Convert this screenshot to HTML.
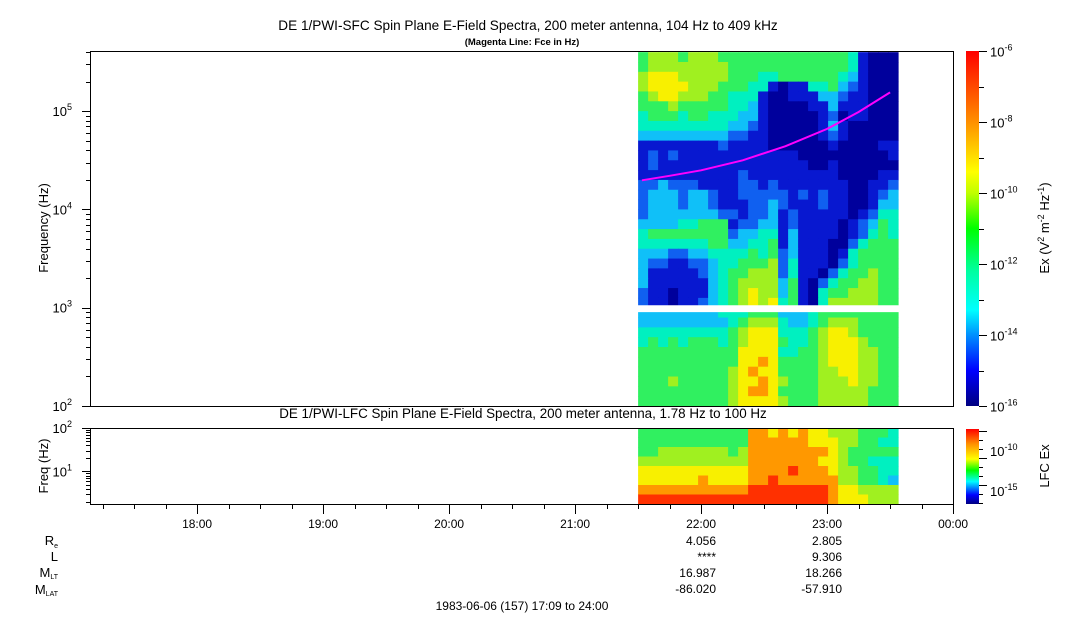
<!DOCTYPE html>
<html><head><meta charset="utf-8">
<style>
html,body{margin:0;padding:0;background:#fff;}
svg{display:block;font-family:"Liberation Sans",Arial,sans-serif;}
</style></head>
<body>
<svg id="chart" width="1083" height="620" viewBox="0 0 1083 620" xmlns="http://www.w3.org/2000/svg">
<defs>
<linearGradient id="jet1" x1="0" y1="1" x2="0" y2="0">
<stop offset="0" stop-color="#000080"/><stop offset="0.1" stop-color="#0000ff"/><stop offset="0.2" stop-color="#0090ff"/><stop offset="0.27" stop-color="#00ffff"/><stop offset="0.38" stop-color="#00ffa0"/><stop offset="0.5" stop-color="#00ff00"/><stop offset="0.6" stop-color="#c0ff00"/><stop offset="0.66" stop-color="#ffff00"/><stop offset="0.8" stop-color="#ff9000"/><stop offset="1" stop-color="#ff0000"/>
</linearGradient>
<linearGradient id="jet2" x1="0" y1="1" x2="0" y2="0">
<stop offset="0" stop-color="#000080"/><stop offset="0.12" stop-color="#0000ff"/><stop offset="0.3" stop-color="#00ffff"/><stop offset="0.45" stop-color="#00ff00"/><stop offset="0.6" stop-color="#ffff00"/><stop offset="0.8" stop-color="#ff9000"/><stop offset="1" stop-color="#ff0000"/>
</linearGradient>
</defs>
<text x="528" y="30" font-size="13.6" text-anchor="middle">DE 1/PWI-SFC  Spin Plane E-Field Spectra, 200 meter antenna, 104 Hz to 409 kHz</text>
<text x="522" y="45" font-size="9.5" font-weight="bold" text-anchor="middle">(Magenta Line: Fce in Hz)</text>
<text x="523" y="418" font-size="13.4" text-anchor="middle">DE 1/PWI-LFC  Spin Plane E-Field Spectra, 200 meter antenna, 1.78 Hz to 100 Hz</text>
<g id="sfc"></g>
<g id="lfc"></g>
<g id="axes"></g>
<text transform="translate(48,228) rotate(-90)" font-size="13" text-anchor="middle">Frequency (Hz)</text>
<text transform="translate(48,466) rotate(-90)" font-size="13" text-anchor="middle">Freq (Hz)</text>
<rect x="966" y="51" width="13" height="355" fill="url(#jet1)"/>
<rect x="966" y="429" width="13" height="75" fill="url(#jet2)"/>
<text transform="translate(1049,228) rotate(-90)" font-size="13" text-anchor="middle">Ex (V<tspan dy="-5" font-size="9">2</tspan><tspan dy="5"> m</tspan><tspan dy="-5" font-size="9">-2</tspan><tspan dy="5"> Hz</tspan><tspan dy="-5" font-size="9">-1</tspan><tspan dy="5">)</tspan></text>
<text transform="translate(1049,466) rotate(-90)" font-size="13" text-anchor="middle">LFC Ex</text>
<g font-size="13" text-anchor="end">
<text x="58" y="545">R<tspan font-size="7" dy="3">e</tspan></text>
<text x="58" y="561">L</text>
<text x="58" y="577">M<tspan font-size="7" dy="2">LT</tspan></text>
<text x="58" y="594">M<tspan font-size="7" dy="2">LAT</tspan></text>
</g>
<g font-size="12" text-anchor="end">
<text x="716" y="545">4.056</text><text x="716" y="561">****</text><text x="716" y="577">16.987</text><text x="716" y="593">-86.020</text>
<text x="842" y="545">2.805</text><text x="842" y="561">9.306</text><text x="842" y="577">18.266</text><text x="842" y="593">-57.910</text>
</g>
<text x="522" y="610" font-size="12" text-anchor="middle">1983-06-06 (157) 17:09 to 24:00</text>
</svg>
<script>
// time columns start (hours) and width
const colStartHour = 21.5;
const colStepHour = 10/126;
// SFC rows: log10 freq bands, listed top (5.5-5.61) to bottom (2.0-2.1); level 0..9 => 1e-16..1e-7
const sfcRows = [
"56665 66655 55555 55555 54100 0",
"56666 66665 55555 55555 54100 0",
"67776 66665 55445 55555 43100 0",
"67777 66655 54410 11445 32100 0",
"56776 66554 44100 11133 21100 0",
"55565 55554 43100 00113 11100 0",
"45554 55444 33100 00012 01100 0",
"44444 44443 32100 00013 10000 0",
"33333 33332 21100 00012 10000 0",
"11111 11121 11100 00001 00001 1",
"12121 11111 11111 10000 00000 1",
"12111 11111 11111 11001 00000 0",
"11111 11111 21111 11111 00001 1",
"22322 21111 22121 11111 10011 2",
"23332 33211 22222 12121 10012 3",
"23332 33211 12232 11121 10013 3",
"23333 33322 12231 21111 10124 4",
"33334 45551 22331 21111 01235 4",
"45555 55552 33441 31111 01245 4",
"44444 44553 34451 31110 02455 5",
"33322 33444 45452 31110 14555 5",
"32211 22344 55562 41110 24555 5",
"31111 12345 56662 41102 45565 5",
"31111 11345 66663 51024 55665 5",
"21101 11345 67663 51045 56665 5",
"21101 12345 67674 51046 66665 5",
"33333 33344 45553 33455 55555 5",
"33333 33334 56664 33456 66555 5",
"44444 44445 67774 44567 76555 5",
"45454 55545 67775 44567 77655 5",
"55555 55555 77774 45567 77665 5",
"55555 55555 77875 55567 77665 5",
"55555 55556 78775 55566 77665 5",
"55565 55556 77876 55566 67665 5",
"55555 55556 78875 55566 66655 5",
"55555 55556 77776 55566 66655 5"
];
// LFC rows top to bottom (8 bands 1.78..100 Hz)
const lfcRows = [
"55555 55555 58878 78776 66555 4",
"55555 55555 58888 88777 66554 4",
"55666 66665 68888 88887 65555 5",
"66666 66666 68888 88877 65544 4",
"77777 77777 78888 98887 66554 4",
"77777 78777 78898 88888 66554 3",
"88888 88888 89999 99998 77666 6",
"99999 99999 99999 99998 77766 6"
];
// Fce magenta line
const fceHours = [21.53, 21.75, 22.0, 22.33, 22.67, 23.0, 23.25, 23.5];
const fceKHz = [19.8, 22, 25, 31.6, 44, 66, 98, 155];
// tick labels
const yTickExps = [2, 3, 4, 5];
const cbExps = [-16, -14, -12, -10, -8, -6];
const hourLabels = ["18:00", "19:00", "20:00", "21:00", "22:00", "23:00", "00:00"];

const NS = "http://www.w3.org/2000/svg";
const X0 = 90, X1 = 953, HOUR0 = 17.15;
const xScale = h => X0 + (h - HOUR0) * 126;
const TY0 = 51, TY1 = 406, LOGMIN = 2, LOGMAX = Math.log10(409000);
const yTop = l => TY1 - (l - LOGMIN) / (LOGMAX - LOGMIN) * (TY1 - TY0);
const BY0 = 428, BY1 = 504, BLMIN = Math.log10(1.78), BLMAX = 2;
const yBot = l => BY1 - (l - BLMIN) / (BLMAX - BLMIN) * (BY1 - BY0);
const palette = ["#00009c","#0818d0","#1060f0","#10c0f8","#00f0c0","#30f060","#a0f020","#f8f000","#ff9800","#ff3000"];

function mk(tag, attrs, parent) {
  const e = document.createElementNS(NS, tag);
  for (const k in attrs) e.setAttribute(k, attrs[k]);
  parent.appendChild(e);
  return e;
}
const sfc = document.getElementById("sfc");
sfcRows.forEach((row, k) => {
  const s = row.replace(/ /g, "");
  const lo = 2 + 0.1 * (sfcRows.length - 1 - k);
  const hi = Math.min(lo + 0.1, LOGMAX);
  for (let i = 0; i < s.length; i++) {
    const x = xScale(colStartHour + i * colStepHour), x2 = xScale(colStartHour + (i + 1) * colStepHour);
    const r = mk("rect", {x: x, y: yTop(hi), width: x2 - x + 0.5, height: yTop(lo) - yTop(hi) + 0.5, fill: palette[+s[i]]}, sfc);
    
    
  }
});
// data gap band
const gap = mk("rect", {x: 630, y: yTop(3.025), width: 275, height: yTop(2.955) - yTop(3.025), fill: "#fff"}, sfc);



const lfc = document.getElementById("lfc");
const bandStep = (BLMAX - BLMIN) / lfcRows.length;
lfcRows.forEach((row, k) => {
  const s = row.replace(/ /g, "");
  const hi = BLMAX - k * bandStep, lo = hi - bandStep;
  for (let i = 0; i < s.length; i++) {
    const x = xScale(colStartHour + i * colStepHour), x2 = xScale(colStartHour + (i + 1) * colStepHour);
    const r = mk("rect", {x: x, y: yBot(hi), width: x2 - x + 0.5, height: yBot(lo) - yBot(hi) + 0.5, fill: palette[+s[i]]}, lfc);
    
    
  }
});

// fce line
let d = "";
fceHours.forEach((h, i) => { d += (i ? "L" : "M") + xScale(h).toFixed(1) + "," + yTop(Math.log10(fceKHz[i] * 1000)).toFixed(1); });
const fl = mk("path", {d: d, fill: "none", stroke: "#ff00ff", "stroke-width": 2}, sfc);



const ax = document.getElementById("axes");
const line = (x1, y1, x2, y2) => mk("line", {x1, y1, x2, y2, stroke: "#000", "stroke-width": 1}, ax);
// frames
mk("rect", {x: X0 + 0.5, y: TY0 + 0.5, width: X1 - X0, height: TY1 - TY0, fill: "none", stroke: "#000"}, ax);
mk("rect", {x: X0 + 0.5, y: BY0 + 0.5, width: X1 - X0, height: BY1 - BY0, fill: "none", stroke: "#000"}, ax);
// top y ticks
for (let e = 2; e <= 5; e++) {
  for (let m = 1; m < 10; m++) {
    const l = e + Math.log10(m);
    if (l > LOGMAX) break;
    const y = Math.round(yTop(l)) + 0.5;
    line(m === 1 ? X0 - 8 : X0 - 4, y, X0, y);
  }
}
yTickExps.forEach(e => {
  const t = mk("text", {x: 72, y: yTop(e) + 5, "font-size": 13, "text-anchor": "end"}, ax);
  
  
  t.innerHTML = '10<tspan dy="-6" font-size="9">' + e + '</tspan>';
});
// bottom y ticks
for (let e = 0; e <= 2; e++) {
  for (let m = 1; m < 10; m++) {
    const l = e + Math.log10(m);
    if (l < BLMIN || l > BLMAX) continue;
    const y = Math.round(yBot(l)) + 0.5;
    line(m === 1 ? X0 - 8 : X0 - 4, y, X0, y);
  }
}
[1, 2].forEach(e => {
  const t = mk("text", {x: 72, y: yBot(e) + 5, "font-size": 13, "text-anchor": "end"}, ax);
  
  
  t.innerHTML = '10<tspan dy="-6" font-size="9">' + e + '</tspan>';
});
// time ticks
for (let q = 0; ; q++) {
  const h = 17.25 + q * 0.25;
  if (h > 24.001) break;
  const x = Math.round(xScale(h)) + 0.5;
  const major = Math.abs(h - Math.round(h)) < 1e-6;
  line(x, BY1, x, BY1 + (major ? 10 : 5));
}
hourLabels.forEach((lab, i) => {
  const t = mk("text", {x: xScale(18 + i), y: 528, "font-size": 12, "text-anchor": "middle"}, ax);
  
  
  t.textContent = lab;
});
// colorbar ticks
cbExps.forEach(e => {
  const y = Math.round(TY1 - (e + 16) / 10 * (TY1 - TY0)) + 0.5;
  line(979, y, 987, y);
  const t = mk("text", {x: 990, y: y + 5, "font-size": 13}, ax);
  
  
  t.innerHTML = '10<tspan dy="-6" font-size="9">' + e + '</tspan>';
});
cbExps.slice(0, -1).forEach(e => {
  const y = Math.round(TY1 - (e + 17) / 10 * (TY1 - TY0)) + 0.5;
  if (e + 17 > 0) line(979, y, 984, y);
});
for (let k = 0; k < 9; k++) { const y = 431 + k * 9 + 0.5; line(979, y, k % 3 === 0 ? 987 : 983, y); }
[[-10, 456], [-15, 496]].forEach(p => {
  const t = mk("text", {x: 990, y: p[1], "font-size": 13}, ax);
  
  
  t.innerHTML = '10<tspan dy="-6" font-size="9">' + p[0] + '</tspan>';
});
</script>
</body></html>
